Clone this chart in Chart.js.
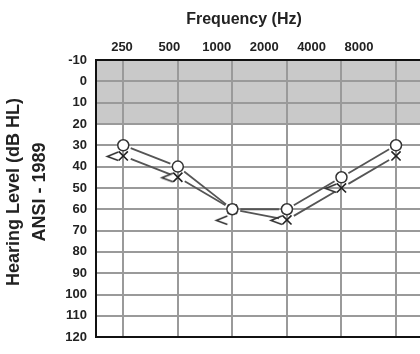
<!DOCTYPE html>
<html>
<head>
<meta charset="utf-8">
<script src="https://cdn.jsdelivr.net/npm/chart.js@4/dist/chart.umd.min.js"></script>
<style>
  html, body { margin: 0; padding: 0; background: #fff; overflow: hidden; }
  #wrap { width: 420px; height: 354px; overflow: hidden; }
  canvas { display: block; }
</style>
</head>
<body>
<div id="wrap"><canvas id="audiogram" width="440" height="354"></canvas></div>
<script>
// Audiogram – air / bone conduction thresholds

const freqLabels = ['250', '500', '1000', '2000', '4000', '8000'];
const rightAir = [30, 40, 60, 60, 45, 30];    // O
const leftAir = [35, 45, 60, 65, 50, 35];     // X
const leftBone = [35, 45, 65, 65, 50, null];  // <
const normalBand = [-10, 20];
const dbRange = [-10, 120];

const FONT = "'Liberation Sans', Arial, sans-serif";
const INK = '#222';

const toPoints = arr => arr.map((v, i) => ({ x: i, y: v }));
// one tick per test frequency
const freqTicks = s => { s.ticks = freqLabels.map((_, i) => ({ value: i })); };

// "<" bone conduction mark, drawn to the left of its point
function boneMark() {
    const c = document.createElement('canvas');
    c.width = 40; c.height = 16;
    const g = c.getContext('2d');
    g.strokeStyle = '#333';
    g.lineWidth = 1.5;
    g.beginPath();
    g.moveTo(15, 4);
    g.lineTo(4, 8.5);
    g.lineTo(15, 12.5);
    g.stroke();
    return c;
}

// grey band for the normal hearing range
const bandPlugin = {
    id: 'band',
    beforeDraw(chart) {
        const { ctx, chartArea: a, scales: { y } } = chart;
        const y1 = y.getPixelForValue(normalBand[0]);
        const y2 = y.getPixelForValue(normalBand[1]);
        ctx.save();
        ctx.fillStyle = '#c9c9c9';
        ctx.fillRect(a.left, y1, a.right - a.left, y2 - y1);
        ctx.restore();
    }
};

// connecting lines that stop short of each symbol
const gapLinePlugin = {
    id: 'gapLines',
    beforeDatasetsDraw(chart) {
        const ctx = chart.ctx;
        chart.data.datasets.forEach((ds, di) => {
            if (!ds.gapLine) return;
            const pts = chart.getDatasetMeta(di).data;
            ctx.save();
            ctx.strokeStyle = '#555';
            ctx.lineWidth = 1.8;
            for (let i = 0; i < pts.length - 1; i++) {
                const a = pts[i], b = pts[i + 1];
                if (a.skip || b.skip) continue;
                const dx = b.x - a.x, dy = b.y - a.y;
                const len = Math.hypot(dx, dy);
                const gap = 8;
                if (len < gap * 2) continue;
                const ux = dx / len, uy = dy / len;
                ctx.beginPath();
                ctx.moveTo(a.x + ux * gap, a.y + uy * gap);
                ctx.lineTo(b.x - ux * gap, b.y - uy * gap);
                ctx.stroke();
            }
            ctx.restore();
        });
    }
};

// axis titles
const titlePlugin = {
    id: 'axisTitles',
    afterDraw(chart) {
        const { ctx, chartArea: a } = chart;
        ctx.save();
        ctx.fillStyle = INK;
        ctx.textAlign = 'center';
        ctx.textBaseline = 'middle';
        ctx.font = `bold 16px ${FONT}`;
        ctx.fillText('Frequency (Hz)', a.left + 148, 20);
        ctx.translate(0, 192);
        ctx.rotate(-Math.PI / 2);
        ctx.font = `bold 18px ${FONT}`;
        ctx.fillText('Hearing Level (dB HL)', 0, 14);
        ctx.fillText('ANSI - 1989', 0, 40);
        ctx.restore();
    }
};

new Chart(document.getElementById('audiogram'), {
    type: 'line',
    data: {
        datasets: [
            {
                label: 'Right air',
                data: toPoints(rightAir),
                showLine: false,
                gapLine: true,
                pointStyle: 'circle',
                pointRadius: 5.5,
                pointBorderWidth: 1.5,
                pointBorderColor: '#333',
                pointBackgroundColor: '#fff',
            },
            {
                label: 'Left air',
                data: toPoints(leftAir),
                showLine: false,
                gapLine: true,
                pointStyle: 'crossRot',
                pointRadius: 6.5,
                pointBorderWidth: 1.6,
                pointBorderColor: '#222',
            },
            {
                label: 'Left bone',
                data: toPoints(leftBone),
                showLine: false,
                pointStyle: boneMark(),
            },
        ],
    },
    options: {
        responsive: false,
        animation: false,
        devicePixelRatio: 1,
        layout: { padding: { left: 56, right: 16.7, top: 34, bottom: 6 } },
        plugins: { legend: { display: false }, tooltip: { enabled: false } },
        scales: {
            x: {
                type: 'linear',
                position: 'bottom',
                min: -0.5,
                max: freqLabels.length - 0.5,
                ticks: { display: false },
                grid: { color: '#9a9a9a', lineWidth: 2, drawTicks: false },
                border: { color: '#111', width: 2 },
                afterBuildTicks: freqTicks,
                afterFit: s => { s.height = 0; },
            },
            xTop: {
                type: 'linear',
                position: 'top',
                min: -0.5485,
                max: 6.357,
                ticks: {
                    autoSkip: false,
                    maxRotation: 0,
                    padding: 5,
                    color: INK,
                    font: { family: FONT, size: 13, weight: 'bold' },
                    callback: v => freqLabels[v] ?? '',
                },
                grid: { display: false, drawTicks: false },
                border: { color: '#111', width: 2 },
                afterBuildTicks: freqTicks,
                afterFit: s => { s.height = 26; },
            },
            y: {
                type: 'linear',
                position: 'left',
                reverse: true,
                min: dbRange[0],
                max: dbRange[1],
                ticks: {
                    stepSize: 10,
                    padding: 9,
                    color: INK,
                    font: { family: FONT, size: 13, weight: 'bold' },
                },
                grid: { color: '#9a9a9a', lineWidth: 2, drawTicks: false },
                border: { color: '#111', width: 2 },
                afterFit: s => { s.width = 40; },
            },
        },
    },
    plugins: [bandPlugin, gapLinePlugin, titlePlugin],
});
</script>
</body>
</html>
